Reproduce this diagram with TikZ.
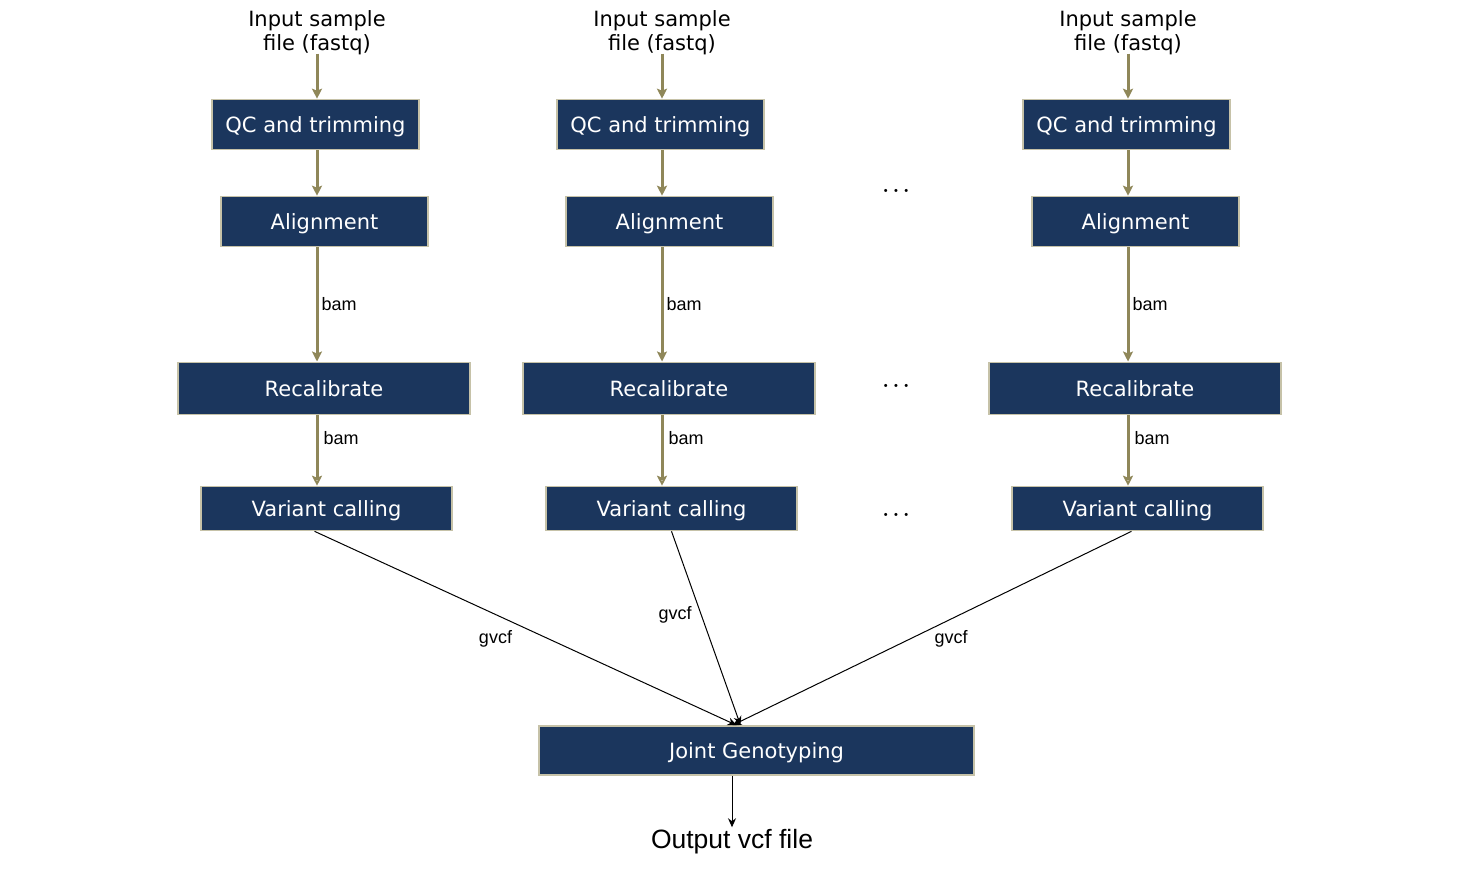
\documentclass[tikz,border=0pt]{standalone}
\usepackage{fontspec}
\setmainfont{DejaVu Sans}
\newfontfamily\labelfont{Liberation Sans}
\usetikzlibrary{arrows.meta}
\definecolor{boxblue}{HTML}{1B365D}
\definecolor{boxedge}{HTML}{C6C2A8}
\definecolor{flowolive}{HTML}{8F8759}
\tikzset{
  stage/.style={draw=boxedge,line width=0.8pt,fill=boxblue,text=white,
    font=\fontsize{10.5}{12}\selectfont,inner sep=0pt,text height=0.95em,text depth=0.15em},
  flow/.style={draw=flowolive,line width=1.5pt,-{Stealth[length=5pt,width=5pt,inset=1pt]}},
  flowopen/.style={draw=flowolive,line width=1.5pt,-{Stealth[open,length=5pt,width=5pt,inset=1pt]}},
  gvcfline/.style={draw=black,line width=0.5pt,-{Stealth[length=4.5pt,width=4pt]}},
  edgelabel/.style={font=\labelfont\fontsize{9}{10}\selectfont,inner sep=1pt},
}

\begin{document}
\begin{tikzpicture}[x=0.5pt,y=-0.5pt]
  \useasboundingbox (0,0) rectangle (1470,874);
  % one column per sample
  \foreach \dx/\c in {0/1,345/2,811/3}{
    \node[align=center,font=\fontsize{10.5}{12}\selectfont,inner sep=1pt] (in\c) at (317+\dx,33) {Input sample\\file (fastq)};
    \node[stage,minimum width=103.5pt,minimum height=25pt] (qc\c) at (315.5+\dx,124.5) {QC and trimming};
    \node[stage,minimum width=103.5pt,minimum height=25pt] (al\c) at (324.5+\dx,221.5) {Alignment};
    \node[stage,minimum width=146pt,minimum height=26pt] (rc\c) at (324+\dx,388.3) {Recalibrate};
    \node[stage,minimum width=125.5pt,minimum height=22pt] (vc\c) at (326.5+\dx,508.5) {Variant calling};
    \draw[flow] ([yshift=2pt]in\c.south) -- (qc\c.north -| in\c.south);
    \draw[flow] (qc\c.south -| in\c.south) -- (al\c.north -| in\c.south);
    \draw[flow] (al\c.south -| in\c.south) -- (rc\c.north -| in\c.south)
      node[edgelabel,midway,right=0.5pt] {bam};
    \draw[flowopen] (rc\c.south -| in\c.south) -- (vc\c.north -| in\c.south)
      node[edgelabel,pos=0.33,right=1.5pt] {bam};
  }
  \node[font=\boldmath] (dots1) at (896,191) {$\ldots$};
  \node[font=\boldmath] (dots2) at (896,386) {$\ldots$};
  \node[font=\boldmath] (dots3) at (896,515) {$\ldots$};
  \node[stage,minimum width=217.5pt,minimum height=24.5pt] (jg) at (756.5,750.5) {Joint Genotyping};
  \node[font=\labelfont\fontsize{13.25}{15}\selectfont,inner sep=1pt] (out) at (732,842) {Output vcf file};
  \draw[gvcfline] ([xshift=-6pt]vc1.south) -- ([xshift=-10pt]jg.north)
    node[edgelabel,pos=0.5,anchor=north east,xshift=-5.5pt] {gvcf};
  \draw[gvcfline] (vc2.south) -- ([xshift=-8pt]jg.north)
    node[edgelabel,pos=0.43,left=3.5pt] {gvcf};
  \draw[gvcfline] ([xshift=-3pt]vc3.south) -- ([xshift=-12pt]jg.north)
    node[edgelabel,pos=0.5,anchor=north west] {gvcf};
  \draw[gvcfline] (jg.south -| out.north) -- (out.north);
\end{tikzpicture}
\end{document}
